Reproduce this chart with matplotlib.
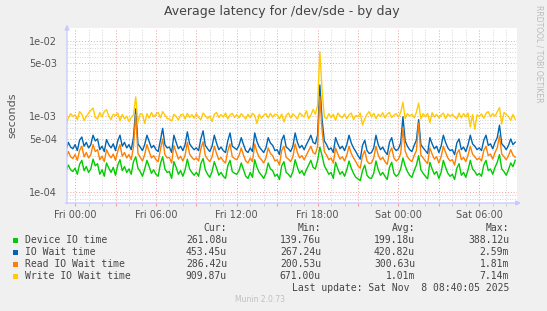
import numpy as np
import matplotlib
matplotlib.use("Agg")
import matplotlib.pyplot as plt
from matplotlib.patches import Rectangle
from matplotlib.ticker import FixedLocator, MultipleLocator, FuncFormatter, NullFormatter

# samples every 10 min, starting Thu 23:20 (hours relative to Fri 00:00), values in microseconds
start_h = -2.0 / 3.0
step_h = 1.0 / 6.0

device_io = [
    190, 225, 195, 185,
    205, 170, 230, 260, 190, 215,
    180, 200, 270, 220, 235, 170,
    195, 160, 240, 205, 180, 210,
    165, 225, 265, 190, 215, 180,
    200, 170, 250, 290, 205, 185,
    160, 200, 260, 215, 175, 195,
    170, 160, 235, 290, 200, 180,
    185, 150, 250, 210, 170, 190,
    160, 195, 270, 200, 180, 165,
    180, 160, 235, 275, 195, 170,
    155, 185, 250, 205, 165, 180,
    160, 150, 220, 260, 185, 175,
    170, 190, 240, 195, 160, 150,
    180, 155, 265, 210, 180, 165,
    150, 175, 240, 200, 190, 160,
    170, 145, 220, 250, 180, 170,
    155, 185, 265, 210, 175, 190,
    165, 195, 225, 260, 210, 200,
    260, 388, 300, 220, 195, 170,
    180, 150, 245, 200, 170, 185,
    160, 195, 255, 205, 175, 155,
    148, 140, 190, 225, 165, 152,
    150, 175, 255, 195, 165, 180,
    160, 145, 210, 245, 175, 160,
    170, 200, 280, 220, 185, 165,
    155, 190, 225, 300, 195, 175,
    160, 148, 245, 200, 170, 185,
    150, 180, 260, 210, 175, 160,
    170, 145, 205, 235, 165, 180,
    155, 195, 260, 200, 185, 165,
    175, 160, 225, 260, 190, 200,
    170, 210, 245, 310, 200, 185,
    165, 195, 240, 215, 261,
]

io_wait = [
    360, 450, 390, 370,
    420, 350, 480, 530, 400, 450,
    380, 420, 560, 470, 500, 360,
    400, 340, 490, 420, 380, 430,
    350, 470, 560, 400, 450, 380,
    420, 360, 520, 1250, 430, 390,
    350, 420, 560, 460, 380, 410,
    360, 340, 480, 690, 420, 380,
    390, 330, 560, 450, 370, 400,
    350, 420, 620, 430, 390, 360,
    380, 350, 500, 640, 410, 370,
    340, 400, 560, 440, 360, 390,
    350, 330, 470, 600, 400, 380,
    360, 410, 520, 420, 350, 330,
    380, 340, 600, 460, 390, 360,
    330, 380, 520, 440, 410, 350,
    360, 310, 480, 560, 390, 370,
    340, 400, 600, 450, 380, 410,
    360, 420, 480, 560, 450, 430,
    560, 2590, 900, 470, 420, 360,
    380, 330, 520, 430, 370, 400,
    350, 420, 560, 440, 380, 340,
    300, 270, 410, 480, 350, 320,
    330, 380, 560, 420, 360, 390,
    340, 310, 450, 520, 380, 350,
    370, 440, 980, 470, 400, 360,
    340, 410, 480, 900, 420, 380,
    350, 320, 520, 430, 370, 400,
    330, 400, 560, 450, 380, 350,
    360, 310, 440, 500, 360, 390,
    340, 420, 560, 430, 400, 360,
    380, 350, 480, 560, 410, 430,
    370, 450, 520, 760, 430, 400,
    360, 410, 500, 420, 453,
]

read_wait = [
    280, 340, 290, 275,
    310, 260, 350, 400, 290, 330,
    280, 310, 420, 340, 360, 265,
    295, 250, 360, 310, 280, 315,
    260, 345, 420, 295, 330, 280,
    310, 265, 390, 1050, 320, 285,
    255, 310, 420, 340, 280, 300,
    265, 250, 360, 500, 310, 280,
    285, 240, 410, 330, 270, 295,
    255, 305, 450, 315, 285, 265,
    280, 255, 370, 460, 300, 270,
    250, 290, 400, 320, 265, 285,
    255, 240, 345, 430, 290, 275,
    265, 300, 380, 305, 255, 240,
    280, 250, 430, 335, 285, 265,
    240, 280, 380, 320, 300, 255,
    265, 225, 350, 400, 285, 270,
    250, 290, 430, 330, 280, 300,
    265, 305, 350, 400, 330, 315,
    400, 1810, 650, 340, 305, 265,
    280, 240, 380, 315, 270, 290,
    255, 305, 400, 320, 280, 250,
    220, 205, 300, 350, 255, 235,
    240, 280, 400, 305, 265, 285,
    250, 230, 330, 380, 280, 255,
    270, 320, 700, 345, 290, 265,
    250, 300, 350, 810, 305, 280,
    255, 235, 380, 315, 270, 290,
    240, 290, 400, 330, 280, 255,
    265, 225, 320, 360, 265, 285,
    250, 305, 400, 315, 290, 265,
    280, 255, 350, 400, 300, 315,
    270, 330, 380, 550, 315, 290,
    265, 300, 360, 305, 286,
]

write_wait = [
    780, 950, 1080, 1000,
    1040, 900, 1150, 1060, 880, 990,
    1100, 1200, 1280, 960, 920, 1120,
    980, 1150, 1220, 1000, 900, 1060,
    1020, 1100, 870, 1050, 920, 1000,
    850, 960, 1040, 1800, 830, 1080,
    1060, 800, 1080, 940, 1120, 980,
    1060, 1120, 950, 1150, 1040, 930,
    920, 860, 1060, 990, 890, 1040,
    1060, 920, 1090, 960, 1050, 940,
    1080, 960, 900, 1100, 1010, 930,
    1000, 850, 1060, 1120, 960, 1050,
    980, 1100, 920, 1040, 1090, 960,
    1050, 950, 1080, 1000, 920, 1060,
    960, 1090, 1020, 800, 1060, 940,
    1030, 1080, 950, 1090, 970, 1060,
    1050, 920, 1070, 840, 1020, 1100,
    950, 1070, 1000, 920, 1100, 1040,
    980, 1180, 930, 1030, 1230, 1060,
    1400, 7140, 2200, 980, 920, 1080,
    960, 1060, 880, 1100, 1010, 950,
    1070, 930, 1040, 1100, 900, 1020,
    990, 1100, 760, 920, 1060, 1150,
    980, 1090, 930, 1060, 990, 1110,
    950, 1060, 1120, 960, 1030, 1080,
    980, 1120, 1530, 930, 1080, 1000,
    1060, 950, 1130, 1490, 920, 1080,
    990, 1090, 820, 1110, 980, 1060,
    950, 1040, 1100, 930, 1070, 990,
    1060, 980, 920, 1100, 950, 1080,
    980, 1100, 720, 1050, 671, 1040,
    990, 1070, 940, 1090, 1150, 980,
    1080, 1000, 1140, 1300, 790, 1120,
    1060, 990, 880, 1050, 910,
]

series_names = ["Device IO time", "IO Wait time", "Read IO Wait time", "Write IO Wait time"]
series_colors = ["#00CC00", "#0066B3", "#FF8000", "#FFCC00"]
cur_vals = ["261.08u", "453.45u", "286.42u", "909.87u"]
min_vals = ["139.76u", "267.24u", "200.53u", "671.00u"]
avg_vals = ["199.18u", "420.82u", "300.63u", "1.01m"]
max_vals = ["388.12u", "2.59m", "1.81m", "7.14m"]

xtick_hours = [0, 6, 12, 18, 24, 30]
xtick_labels = ["Fri 00:00", "Fri 06:00", "Fri 12:00", "Fri 18:00", "Sat 00:00", "Sat 06:00"]
ytick_vals = [1e-4, 5e-4, 1e-3, 5e-3, 1e-2]
ytick_labels = ["1e-04", "5e-04", "1e-03", "5e-03", "1e-02"]

W, H = 547, 311
def fx(x):
    return x / W
def fy(y):
    return 1 - y / H

fig = plt.figure(figsize=(W / 100, H / 100), dpi=100, facecolor="#F0F0F0")
ax = fig.add_axes([fx(67), fy(203), 450 / W, 175 / H])
ax.set_facecolor("white")

data = [device_io, io_wait, read_wait, write_wait]
for vals, col in zip(data, series_colors):
    v = np.array(vals) * 1e-6
    t = start_h + np.arange(len(v)) * step_h
    ax.plot(t, v, color=col, lw=1.0, zorder=3)

ax.set_yscale("log")
ax.set_xlim(-0.6, 32.8)
ax.set_ylim(7.08e-5, 1.472e-2)

# grid: red at majors, grey dotted at minors
minor_y = [m * 10.0 ** e for e in (-5, -4, -3, -2) for m in (2, 3, 4, 6, 7, 8, 9)]
ax.yaxis.set_major_locator(FixedLocator(ytick_vals))
ax.yaxis.set_minor_locator(FixedLocator(minor_y))
ax.yaxis.set_major_formatter(FuncFormatter(lambda v, p: ytick_labels[ytick_vals.index(v)] if v in ytick_vals else ""))
ax.yaxis.set_minor_formatter(NullFormatter())

ax.xaxis.set_major_locator(MultipleLocator(3))
ax.xaxis.set_minor_locator(MultipleLocator(1))
lab = dict(zip(xtick_hours, xtick_labels))
ax.xaxis.set_major_formatter(FuncFormatter(lambda v, p: lab.get(int(round(v)), "") if abs(v - round(v)) < 1e-6 else ""))

ax.grid(which="major", color="#F0A0A0", linestyle=(0, (1, 2)), lw=0.7)
ax.grid(which="minor", color="#C8C8C8", linestyle=(0, (1, 2)), lw=0.6)
ax.set_axisbelow(True)

for s in ax.spines.values():
    s.set_visible(False)
ax.tick_params(axis="both", which="both", colors="#555555", labelsize=7, length=2)
ax.tick_params(axis="x", which="major", colors="#F0A0A0", labelcolor="#555555", pad=3)
ax.tick_params(axis="x", which="minor", colors="#C8C8C8")
ax.tick_params(axis="y", which="both", length=0, pad=7)

axis_col = "#C8C8FF"
ax.annotate("", xy=(0, 1.035), xytext=(0, -0.02), xycoords="axes fraction",
            arrowprops=dict(arrowstyle="-|>", color=axis_col, lw=0.9, mutation_scale=7),
            annotation_clip=False)
ax.annotate("", xy=(1.015, 0), xytext=(-0.01, 0), xycoords="axes fraction",
            arrowprops=dict(arrowstyle="-|>", color=axis_col, lw=0.9, mutation_scale=7),
            annotation_clip=False)

fig.text(fx(282), fy(12), "Average latency for /dev/sde - by day", ha="center", va="center",
         fontsize=9, color="#444444")
fig.text(fx(12), fy(115), "seconds", rotation=90, ha="center", va="center", fontsize=8, color="#555555")
fig.text(fx(539), fy(5), "RRDTOOL / TOBI OETIKER", rotation=270, ha="center", va="top",
         fontsize=5.5, color="#BBBBBB")

mono = dict(family="DejaVu Sans Mono", fontsize=7, color="#444444", va="center")
col_right = [227, 321, 415, 509]
for x, h in zip(col_right, ["Cur:", "Min:", "Avg:", "Max:"]):
    fig.text(fx(x), fy(228), h, ha="right", **mono)
for i, name in enumerate(series_names):
    y = 240 + 12 * i
    fig.add_artist(Rectangle((fx(13), fy(y + 2.5)), 5 / W, 5 / H, transform=fig.transFigure,
                             facecolor=series_colors[i], edgecolor="none"))
    fig.text(fx(25), fy(y), name, ha="left", **mono)
    for x, v in zip(col_right, [cur_vals[i], min_vals[i], avg_vals[i], max_vals[i]]):
        fig.text(fx(x), fy(y), v, ha="right", **mono)
fig.text(fx(509), fy(288), "Last update: Sat Nov  8 08:40:05 2025", ha="right", **mono)
fig.text(fx(260), fy(300), "Munin 2.0.73", ha="center", va="center", fontsize=5.5, color="#C0C0C0")

fig.savefig("out.png", dpi=100, facecolor=fig.get_facecolor())
